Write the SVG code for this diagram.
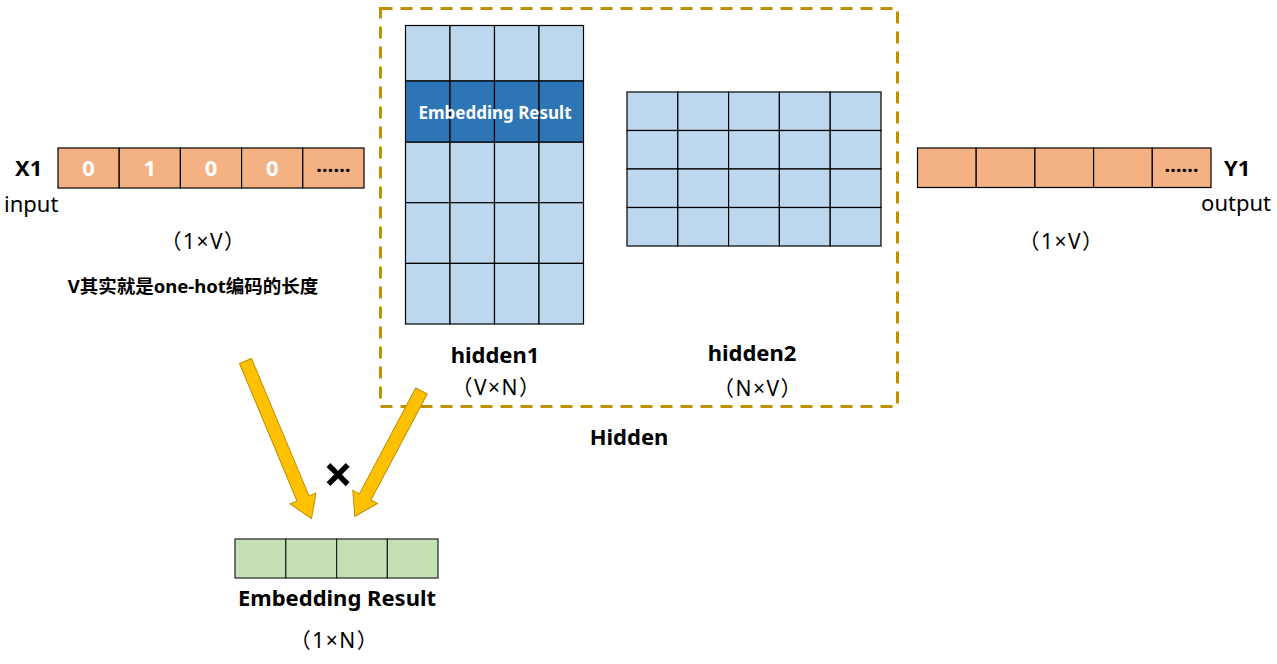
<svg xmlns="http://www.w3.org/2000/svg" width="1277" height="664" viewBox="0 0 1277 664">
<style>
text{font-family:"Noto Sans","Noto Sans CJK SC",sans-serif;fill:#000}
.b{font-weight:bold}
.lab{font-size:21px;letter-spacing:1.5px}
.big{font-size:22px}
.or{fill:#F4B183;stroke:#000;stroke-width:1.2}
.lb{fill:#BDD7EE;stroke:#000;stroke-width:1.2}
.db{fill:#2E75B6;stroke:#000;stroke-width:1.2}
.gr{fill:#C5E0B4;stroke:#222;stroke-width:1.2}
.dig{font-size:22px;fill:#fff;text-anchor:middle;font-weight:bold}
.dots{font-size:20px;font-weight:bold;text-anchor:middle}
.arr{fill:#FFC000;stroke:#BF9000;stroke-width:1}
.c{text-anchor:middle}
</style>
<rect width="1277" height="664" fill="#fff"/>

<g id="hidden-box">
<rect x="380.5" y="8.5" width="517" height="398" fill="none" stroke="#BF9000" stroke-width="3" stroke-dasharray="12 8"/>
<text x="629" y="445" class="big b c">Hidden</text>
</g>

<g id="x1">
<rect x="58" y="148" width="61.2" height="40" class="or"/>
<rect x="119.2" y="148" width="61.2" height="40" class="or"/>
<rect x="180.4" y="148" width="61.2" height="40" class="or"/>
<rect x="241.6" y="148" width="61.2" height="40" class="or"/>
<rect x="302.8" y="148" width="61.2" height="40" class="or"/>
<text x="88.6" y="176" class="dig">0</text>
<text x="149.8" y="176" class="dig">1</text>
<text x="211" y="176" class="dig">0</text>
<text x="272.2" y="176" class="dig">0</text>
<text x="333.4" y="172" class="dots">……</text>
<text x="15" y="176" class="big b">X1</text>
<text x="4" y="212" class="big">input</text>
<text x="203.5" y="249" class="lab c">（1×V）</text>
<text x="193" y="293" class="b c" style="font-size:18.5px">V其实就是one-hot编码的长度</text>
</g>

<g id="y1">
<rect x="917.5" y="148" width="58.7" height="39.5" class="or"/>
<rect x="976.2" y="148" width="58.7" height="39.5" class="or"/>
<rect x="1034.9" y="148" width="58.7" height="39.5" class="or"/>
<rect x="1093.6" y="148" width="58.7" height="39.5" class="or"/>
<rect x="1152.3" y="148" width="58.7" height="39.5" class="or"/>
<text x="1181.6" y="172" class="dots">……</text>
<text x="1224" y="176" class="big b">Y1</text>
<text x="1271" y="211" class="big" text-anchor="end">output</text>
<text x="1061.5" y="249" class="lab c">（1×V）</text>
</g>

<g id="hidden1">
<g class="lb">
<rect x="405.5" y="25.5" width="44.5" height="55.5"/><rect x="450" y="25.5" width="44.5" height="55.5"/><rect x="494.5" y="25.5" width="44.5" height="55.5"/><rect x="539" y="25.5" width="44.5" height="55.5"/>
<rect x="405.5" y="142" width="44.5" height="60.7"/><rect x="450" y="142" width="44.5" height="60.7"/><rect x="494.5" y="142" width="44.5" height="60.7"/><rect x="539" y="142" width="44.5" height="60.7"/>
<rect x="405.5" y="202.7" width="44.5" height="60.7"/><rect x="450" y="202.7" width="44.5" height="60.7"/><rect x="494.5" y="202.7" width="44.5" height="60.7"/><rect x="539" y="202.7" width="44.5" height="60.7"/>
<rect x="405.5" y="263.4" width="44.5" height="60.6"/><rect x="450" y="263.4" width="44.5" height="60.6"/><rect x="494.5" y="263.4" width="44.5" height="60.6"/><rect x="539" y="263.4" width="44.5" height="60.6"/>
</g>
<g class="db">
<rect x="405.5" y="81" width="44.5" height="61"/><rect x="450" y="81" width="44.5" height="61"/><rect x="494.5" y="81" width="44.5" height="61"/><rect x="539" y="81" width="44.5" height="61"/>
</g>
<text x="495" y="119" class="c b" style="font-size:17px;fill:#fff">Embedding Result</text>
<text x="495" y="363" class="big b c">hidden1</text>
<text x="496.5" y="395" class="lab c">（V×N）</text>
</g>

<g id="hidden2" class="lb">
<rect x="627" y="92" width="50.8" height="38.5"/><rect x="677.8" y="92" width="50.8" height="38.5"/><rect x="728.6" y="92" width="50.8" height="38.5"/><rect x="779.4" y="92" width="50.8" height="38.5"/><rect x="830.2" y="92" width="50.8" height="38.5"/>
<rect x="627" y="130.5" width="50.8" height="38.5"/><rect x="677.8" y="130.5" width="50.8" height="38.5"/><rect x="728.6" y="130.5" width="50.8" height="38.5"/><rect x="779.4" y="130.5" width="50.8" height="38.5"/><rect x="830.2" y="130.5" width="50.8" height="38.5"/>
<rect x="627" y="169" width="50.8" height="38.5"/><rect x="677.8" y="169" width="50.8" height="38.5"/><rect x="728.6" y="169" width="50.8" height="38.5"/><rect x="779.4" y="169" width="50.8" height="38.5"/><rect x="830.2" y="169" width="50.8" height="38.5"/>
<rect x="627" y="207.5" width="50.8" height="38.5"/><rect x="677.8" y="207.5" width="50.8" height="38.5"/><rect x="728.6" y="207.5" width="50.8" height="38.5"/><rect x="779.4" y="207.5" width="50.8" height="38.5"/><rect x="830.2" y="207.5" width="50.8" height="38.5"/>
</g>
<g id="hidden2-labels">
<text x="752" y="361" class="big b c">hidden2</text>
<text x="758" y="396" class="lab c">（N×V）</text>
</g>

<g id="embedding-result">
<rect x="235" y="539" width="50.8" height="39" class="gr"/>
<rect x="285.8" y="539" width="50.8" height="39" class="gr"/>
<rect x="336.6" y="539" width="50.8" height="39" class="gr"/>
<rect x="387.4" y="539" width="50.6" height="39" class="gr"/>
<text x="337" y="606" class="big b c">Embedding Result</text>
<text x="334.5" y="648" class="lab c">（1×N）</text>
</g>

<g id="connectors">
<polygon class="arr" transform="translate(245.5,361) rotate(67.3)" points="0,-6.5 149,-6.5 149,-14 171,0 149,14 149,6.5 0,6.5"/>
<polygon class="arr" transform="translate(421.5,391) rotate(118)" points="0,-6.5 120,-6.5 120,-14 142,0 120,14 120,6.5 0,6.5"/>
<text x="338" y="493" class="c b" style="font-size:52px">×</text>
</g>
</svg>
